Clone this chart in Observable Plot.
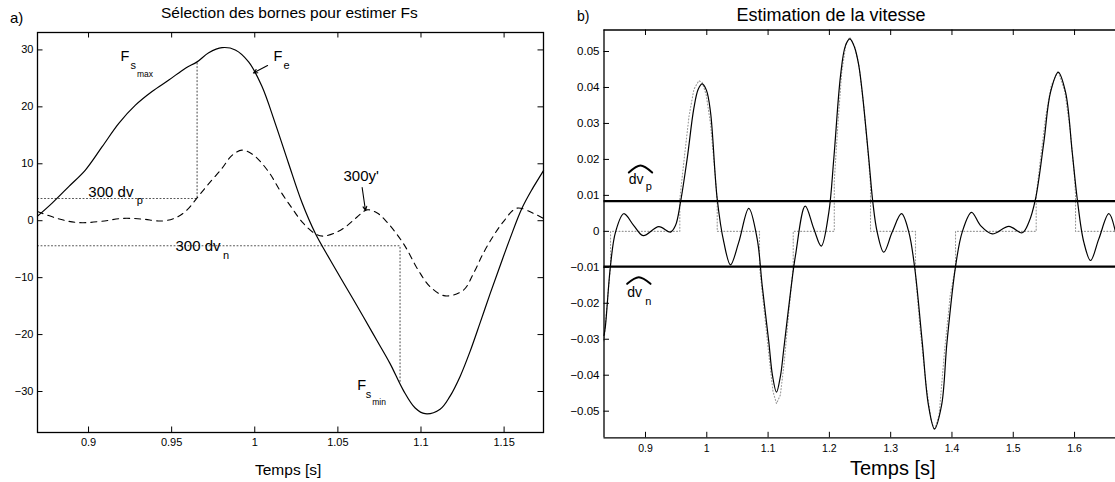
<!DOCTYPE html>
<html>
<head>
<meta charset="utf-8">
<script src="https://cdn.jsdelivr.net/npm/d3@7"></script>
<script src="https://cdn.jsdelivr.net/npm/@observablehq/plot@0.6"></script>
<style>
  html, body { margin: 0; padding: 0; background: #fff; overflow: hidden; }
  #wrap { position: relative; width: 1115px; height: 482px; overflow: hidden; }
  #wrap > svg { position: absolute; top: 0; }
</style>
</head>
<body>
<div id="wrap"></div>
<script>
// ---------------- DATA ----------------
// Panel a) : time axis [s]
const feTime = [0.8693,0.8781,0.8881,0.8981,0.9082,0.9182,0.9282,0.9382,0.9483,0.9583,0.9653,0.9723,0.9803,0.9883,0.9963,1.0043,1.0123,1.0203,1.0284,1.0364,1.0454,1.0554,1.0654,1.0734,1.0814,1.0894,1.0965,1.1025,1.1115,1.1175,1.1236,1.1296,1.1356,1.1416,1.1476,1.1536,1.1606,1.1670,1.1737];
const feForce = [0.8,3.1,6.0,8.9,13.0,17.1,20.3,22.7,24.7,26.8,27.9,29.5,30.4,30.0,27.9,23.6,17.1,10.1,3.2,-2.2,-6.9,-11.9,-16.9,-21.0,-25.1,-29.8,-32.9,-33.9,-33.1,-30.8,-27.3,-22.9,-17.9,-12.8,-7.9,-3.1,2.1,5.6,8.8];
const ypTime = [0.8693,0.8721,0.8800,0.8880,0.8962,0.9080,0.9202,0.9320,0.9443,0.9530,0.9593,0.9653,0.9720,0.9803,0.9860,0.9923,0.9990,1.0083,1.0154,1.0224,1.0290,1.0364,1.0410,1.0494,1.0554,1.0614,1.0674,1.0734,1.0794,1.0894,1.0984,1.1055,1.1145,1.1255,1.1315,1.1375,1.1435,1.1495,1.1576,1.1676,1.1737];
const ypScaled = [1.6,1.3,0.5,-0.1,-0.35,-0.1,0.4,0.3,-0.05,0.6,1.9,4.0,6.4,9.2,11.4,12.4,11.6,8.6,5.2,2.2,-0.4,-2.3,-2.7,-2.0,-0.9,0.6,1.9,1.4,-0.2,-4.0,-8.7,-11.6,-13.2,-12.2,-9.3,-5.7,-2.7,-0.2,2.2,1.3,0.4];
const dvpGuideTime = [0.8693,0.9653,0.9653];
const dvpGuideValue = [3.9,3.9,27.7];
const dvnGuideTime = [0.8693,1.0874,1.0874];
const dvnGuideValue = [-4.4,-4.4,-28.6];
const leftXDomain = [0.8693, 1.1737];
const leftYDomain = [-37.2, 33.06];
const leftXTicks = [0.9,0.95,1,1.05,1.1,1.15];
const leftXTickLabels = ["0.9","0.95","1","1.05","1.1","1.15"];
const leftYTicks = [-30,-20,-10,0,10,20,30];
const leftYTickLabels = ["\u221230","\u221220","\u221210","0","10","20","30"];
// annotation anchors (data units)
const leftNoteTime = {Fsmax:0.9192, Fe:1.0113, dvp:0.8999, dvn:0.9523, yp:1.0534, Fsmin:1.0616};
const leftNoteValue = {Fsmax:28.14, Fe:28.14, dvp:4.13, dvn:-5.36, yp:7.06, Fsmin:-29.65};
const leftArrowFrom = [[1.0077,27.26],[1.0646,5.83]];
const leftArrowTo = [[0.9992,25.94],[1.0666,1.79]];

// Panel b)
const velTime = [0.8323,0.8347,0.8429,0.8511,0.8646,0.8809,0.8962,0.9217,0.9408,0.9489,0.9571,0.9680,0.9788,0.9860,0.9925,0.9995,1.0061,1.0170,1.0278,1.0387,1.0522,1.0685,1.0822,1.0904,1.1012,1.1072,1.1137,1.1203,1.1256,1.1366,1.1447,1.1606,1.1746,1.1867,1.1991,1.2072,1.2182,1.2260,1.2333,1.2410,1.2480,1.2536,1.2643,1.2709,1.2780,1.2888,1.3025,1.3177,1.3296,1.3394,1.3515,1.3617,1.3715,1.3830,1.3919,1.4058,1.4167,1.4319,1.4466,1.4657,1.4928,1.5146,1.5254,1.5363,1.5499,1.5608,1.5734,1.5853,1.5962,1.6044,1.6151,1.6261,1.6396,1.6559,1.6668];
const velValue = [-0.0290,-0.0262,-0.0095,-0.0002,0.0049,0.0016,-0.0012,0.0013,-0.0002,0.0016,0.0081,0.0202,0.0341,0.0395,0.0410,0.0392,0.0331,0.0090,-0.0030,-0.0093,-0.0030,0.0064,-0.0021,-0.0151,-0.0308,-0.0401,-0.0447,-0.0401,-0.0327,-0.0169,-0.0067,0.0070,0.0007,-0.0041,0.0053,0.0202,0.0433,0.0515,0.0535,0.0512,0.0461,0.0387,0.0202,0.0081,-0.0002,-0.0058,-0.0002,0.0049,-0.0002,-0.0104,-0.0308,-0.0484,-0.0549,-0.0484,-0.0308,-0.0098,-0.0002,0.0053,0.0016,-0.0007,0.0014,-0.0004,0.0025,0.0090,0.0248,0.0387,0.0442,0.0387,0.0220,0.0090,-0.0030,-0.0081,-0.0021,0.0049,-0.0002];
const estTime = [0.8323,0.8360,0.8400,0.8430,0.8430,0.9560,0.9560,0.9630,0.9710,0.9790,0.9870,0.9925,0.9990,1.0060,1.0130,1.0170,1.0170,1.0860,1.0860,1.0930,1.1010,1.1080,1.1137,1.1200,1.1260,1.1340,1.1410,1.1410,1.2080,1.2080,1.2140,1.2200,1.2270,1.2333,1.2410,1.2480,1.2560,1.2630,1.2671,1.2671,1.3405,1.3405,1.3480,1.3580,1.3660,1.3715,1.3790,1.3880,1.3970,1.4058,1.4058,1.5374,1.5374,1.5450,1.5530,1.5620,1.5734,1.5840,1.5930,1.6000,1.6016,1.6016,1.6668];
const estValue = [-0.0305,-0.0230,-0.0150,-0.0098,0,0,0.0090,0.0200,0.0320,0.0395,0.0419,0.0414,0.0380,0.0300,0.0170,0.0084,0,0,-0.0098,-0.0210,-0.0340,-0.0445,-0.0479,-0.0455,-0.0370,-0.0220,-0.0098,0,0,0.0140,0.0300,0.0440,0.0520,0.0540,0.0515,0.0465,0.0350,0.0220,0.0130,0,0,-0.0120,-0.0270,-0.0430,-0.0525,-0.0553,-0.0510,-0.0330,-0.0180,-0.0098,0,0,0.0100,0.0210,0.0320,0.0405,0.0446,0.0390,0.0280,0.0150,0.0100,0,0];
const dvThresholds = [0.0084, -0.0098];
const rightXDomain = [0.8323, 1.6668];
const rightYDomain = [-0.0574, 0.05598];
const rightXTicks = [0.9,1,1.1,1.2,1.3,1.4,1.5,1.6];
const rightXTickLabels = ["0.9","1","1.1","1.2","1.3","1.4","1.5","1.6"];
const rightYTicks = [-0.05,-0.04,-0.03,-0.02,-0.01,0,0.01,0.02,0.03,0.04,0.05];
const rightYTickLabels = ["\u22120.05","\u22120.04","\u22120.03","\u22120.02","\u22120.01","0","0.01","0.02","0.03","0.04","0.05"];
const rightNoteTime = {dvp:0.8728, dvn:0.8701};
const rightNoteValue = {dvp:0.01321, dvn:-0.01833};
const hatPTime = [0.8728,0.8918,0.9109];
const hatPValue = [0.01635,0.01830,0.01635];
const hatNTime = [0.8701,0.8891,0.9082];
const hatNValue = [-0.01460,-0.01277,-0.01460];

// ---------------- DRAWING ----------------
const FONT = '"Liberation Sans", Arial, Helvetica, sans-serif';
const zip = (a, b) => a.map((t, i) => ({t, v: b[i]}));
const lab = (ticks, labels) => d => labels[ticks.indexOf(d)];

function note(t, v, parts) {
  return parts.map(([text, size, dx, dy]) =>
    Plot.text([{t, v}], {x: "t", y: "v", text: () => text, fontSize: size, dx, dy,
      textAnchor: "start", lineAnchor: "bottom", fill: "#000"}));
}

// Left panel geometry
const L = {w: 560, h: 482, ml: 37, mr: 17, mt: 32, mb: 50};
const Liw = L.w - L.ml - L.mr, Lih = L.h - L.mt - L.mb;
const tk = 5.5;

const leftPlot = Plot.plot({
  width: L.w, height: L.h,
  marginLeft: L.ml, marginRight: L.mr, marginTop: L.mt, marginBottom: L.mb,
  x: {domain: leftXDomain}, y: {domain: leftYDomain},
  style: {fontFamily: FONT, background: "transparent", color: "#000", overflow: "visible"},
  marks: [
    Plot.line(zip(dvpGuideTime, dvpGuideValue), {x: "t", y: "v", stroke: "#555", strokeWidth: 1.1, strokeDasharray: "1,2.5"}),
    Plot.line(zip(dvnGuideTime, dvnGuideValue), {x: "t", y: "v", stroke: "#555", strokeWidth: 1.1, strokeDasharray: "1,2.5"}),
    Plot.line(zip(ypTime, ypScaled), {x: "t", y: "v", curve: "catmull-rom", stroke: "#000", strokeWidth: 1.1, strokeDasharray: "6,5"}),
    Plot.line(zip(feTime, feForce), {x: "t", y: "v", curve: "catmull-rom", stroke: "#000", strokeWidth: 1.2}),
    Plot.frame({stroke: "#000", strokeWidth: 1.3}),
    Plot.tickX(leftXTicks, {x: d => d, insetTop: Lih - tk, stroke: "#000"}),
    Plot.tickX(leftXTicks, {x: d => d, insetBottom: Lih - tk, stroke: "#000"}),
    Plot.tickY(leftYTicks, {y: d => d, insetRight: Liw - tk, stroke: "#000"}),
    Plot.tickY(leftYTicks, {y: d => d, insetLeft: Liw - tk, stroke: "#000"}),
    Plot.axisX(leftXTicks, {anchor: "bottom", tickSize: 0, tickPadding: 5.5, fontSize: 11, label: null, tickFormat: lab(leftXTicks, leftXTickLabels)}),
    Plot.axisY(leftYTicks, {anchor: "left", tickSize: 0, tickPadding: 4, fontSize: 11, label: null, tickFormat: lab(leftYTicks, leftYTickLabels)}),
    ...note(leftNoteTime.Fsmax, leftNoteValue.Fsmax, [["F", 14.5, 0, 0], ["s", 11, 10, 8], ["max", 8.5, 16.5, 16]]),
    ...note(leftNoteTime.Fe, leftNoteValue.Fe, [["F", 14.5, 0, 0], ["e", 11, 10, 8]]),
    ...note(leftNoteTime.dvp, leftNoteValue.dvp, [["300 dv", 15, 0, 0], ["p", 11, 48.5, 6.5]]),
    ...note(leftNoteTime.dvn, leftNoteValue.dvn, [["300 dv", 15, 0, 0], ["n", 11, 47.5, 7.5]]),
    ...note(leftNoteTime.yp, leftNoteValue.yp, [["300y'", 15, 0, 0]]),
    ...note(leftNoteTime.Fsmin, leftNoteValue.Fsmin, [["F", 14.5, 0, 0], ["s", 11, 8.5, 8], ["min", 8.5, 15, 15]]),
    Plot.arrow(leftArrowFrom.map((p, i) => ({x1: p[0], y1: p[1], x2: leftArrowTo[i][0], y2: leftArrowTo[i][1]})),
      {x1: "x1", y1: "y1", x2: "x2", y2: "y2", stroke: "#000", strokeWidth: 1.1, headLength: 6, headAngle: 50})
  ]
});
leftPlot.style.left = "0px";

// Right panel geometry
const R = {w: 555, h: 482, ml: 43.5, mr: 0, mt: 29.5, mb: 44.7};
const Riw = R.w - R.ml - R.mr, Rih = R.h - R.mt - R.mb;

const rightPlot = Plot.plot({
  width: R.w, height: R.h,
  marginLeft: R.ml, marginRight: R.mr, marginTop: R.mt, marginBottom: R.mb,
  x: {domain: rightXDomain}, y: {domain: rightYDomain},
  style: {fontFamily: FONT, background: "transparent", color: "#000", overflow: "visible"},
  marks: [
    Plot.line(zip(estTime, estValue), {x: "t", y: "v", stroke: "#999", strokeWidth: 1.1, strokeDasharray: "1,2.2"}),
    Plot.line(zip(velTime, velValue), {x: "t", y: "v", curve: "catmull-rom", stroke: "#000", strokeWidth: 1.2}),
    Plot.ruleY(dvThresholds, {stroke: "#000", strokeWidth: 2.4}),
    Plot.ruleY(rightYDomain, {stroke: "#000", strokeWidth: 1.3}),
    Plot.ruleX([rightXDomain[0]], {stroke: "#000", strokeWidth: 1.3}),
    Plot.tickX(rightXTicks, {x: d => d, insetTop: Rih - tk, stroke: "#000"}),
    Plot.tickX(rightXTicks, {x: d => d, insetBottom: Rih - tk, stroke: "#000"}),
    Plot.tickY(rightYTicks, {y: d => d, insetRight: Riw - tk, stroke: "#000"}),
    Plot.axisX(rightXTicks, {anchor: "bottom", tickSize: 0, tickPadding: 7, fontSize: 10.5, label: null, tickFormat: lab(rightXTicks, rightXTickLabels)}),
    Plot.axisY(rightYTicks, {anchor: "left", tickSize: 0, tickPadding: 4.5, fontSize: 11.5, label: null, tickFormat: lab(rightYTicks, rightYTickLabels)}),
    Plot.line(zip(hatPTime, hatPValue), {x: "t", y: "v", curve: "natural", stroke: "#000", strokeWidth: 2}),
    Plot.line(zip(hatNTime, hatNValue), {x: "t", y: "v", curve: "natural", stroke: "#000", strokeWidth: 2}),
    ...note(rightNoteTime.dvp, rightNoteValue.dvp, [["dv", 14, 0, 0], ["p", 11, 17, 6.5]]),
    ...note(rightNoteTime.dvn, rightNoteValue.dvn, [["dv", 14, 0, 0], ["n", 11, 18, 8]])
  ]
});
rightPlot.style.left = "560px";

const wrap = document.getElementById("wrap");
wrap.appendChild(leftPlot);
wrap.appendChild(rightPlot);

// Titles, panel letters and axis labels
const overlay = d3.create("svg").attr("width", 1115).attr("height", 482)
  .style("left", "0px").style("pointer-events", "none")
  .attr("font-family", FONT).attr("fill", "#000");
const texts = [
  {s: "a)", x: 10, y: 23, size: 15},
  {s: "Sélection des bornes pour estimer Fs", x: 161, y: 18, size: 15.5},
  {s: "Temps [s]", x: 255, y: 475, size: 15.5},
  {s: "b)", x: 577, y: 21, size: 14},
  {s: "Estimation de la vitesse", x: 736.5, y: 21, size: 18},
  {s: "Temps [s]", x: 850, y: 475, size: 20}
];
overlay.selectAll("text").data(texts).join("text")
  .attr("x", d => d.x).attr("y", d => d.y).attr("font-size", d => d.size)
  .text(d => d.s);
wrap.appendChild(overlay.node());
</script>
</body>
</html>
